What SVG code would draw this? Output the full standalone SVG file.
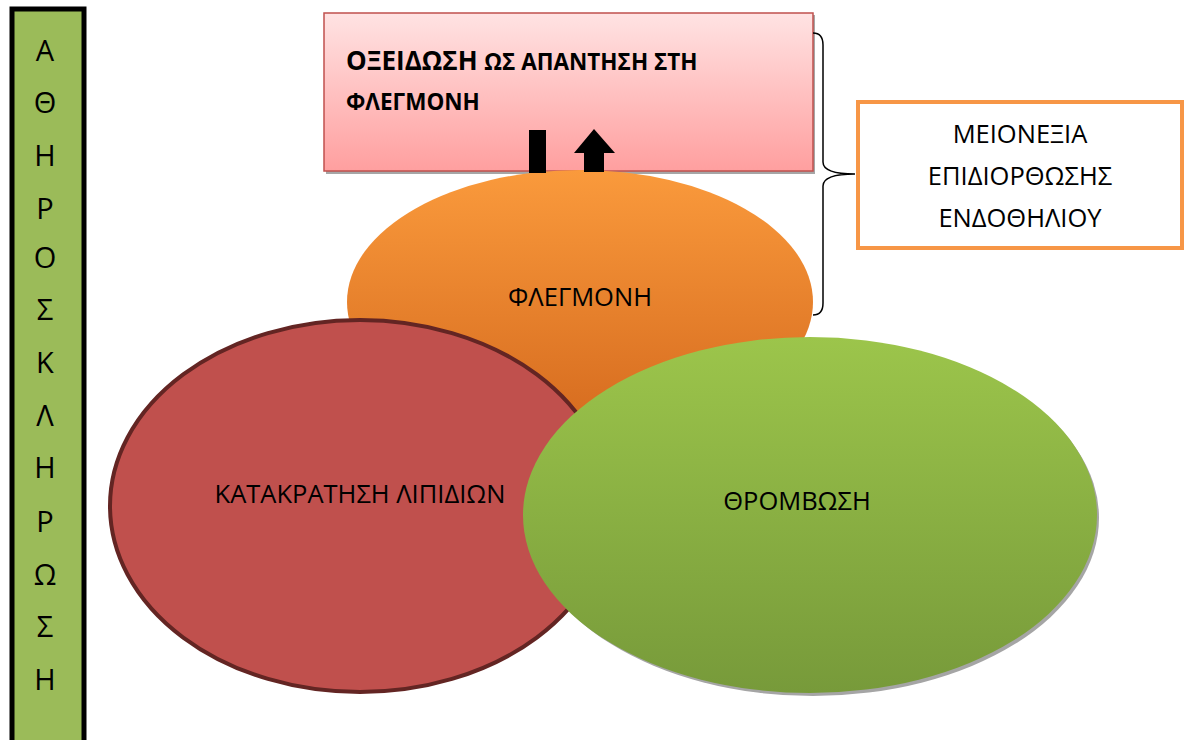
<svg xmlns="http://www.w3.org/2000/svg" width="1184" height="740" viewBox="0 0 1184 740">
<defs>
<style>
text{font-family:"Open Sans","Noto Sans","DejaVu Sans",sans-serif;fill:#000}
.lbl{font-size:25.5px;text-anchor:middle}
.bar{font-size:29px;text-anchor:middle}
.b{font-weight:bold}
</style>
<linearGradient id="gPink" x1="0" y1="0" x2="0" y2="1"><stop offset="0" stop-color="#FFE3E3"/><stop offset="1" stop-color="#FF9F9F"/></linearGradient>
<linearGradient id="gOrange" x1="0" y1="0" x2="0" y2="1"><stop offset="0" stop-color="#FA9A3C"/><stop offset="1" stop-color="#D56A1E"/></linearGradient>
<linearGradient id="gGreen" x1="0" y1="0" x2="0" y2="1"><stop offset="0" stop-color="#9CC54B"/><stop offset="1" stop-color="#779A3A"/></linearGradient>
</defs>
<rect width="1184" height="740" fill="#fff"/>

<g id="side-bar">
<rect x="12" y="9" width="72" height="740" fill="#9BBB59" stroke="#000" stroke-width="5"/>
<text class="bar" x="45" y="61">Α</text>
<text class="bar" x="45" y="113">Θ</text>
<text class="bar" x="45" y="166">Η</text>
<text class="bar" x="45" y="219">Ρ</text>
<text class="bar" x="45" y="268">Ο</text>
<text class="bar" x="45" y="320">Σ</text>
<text class="bar" x="45" y="373">Κ</text>
<text class="bar" x="45" y="426">Λ</text>
<text class="bar" x="45" y="478">Η</text>
<text class="bar" x="45" y="532">Ρ</text>
<text class="bar" x="45" y="585">Ω</text>
<text class="bar" x="45" y="637">Σ</text>
<text class="bar" x="45" y="690">Η</text>
</g>

<g id="oxidation-box">
<rect x="326" y="15" width="489" height="159" fill="#A6A6A6"/>
<rect x="324" y="13" width="489" height="158" fill="url(#gPink)" stroke="#C0504D" stroke-width="1.5"/>
<text x="346" y="70" class="b" style="font-size:26px">ΟΞΕΙΔΩΣΗ <tspan style="font-size:22.5px">ΩΣ ΑΠΑΝΤΗΣΗ ΣΤΗ</tspan></text>
<text x="346" y="110" class="b" style="font-size:22.5px">ΦΛΕΓΜΟΝΗ</text>
</g>

<g id="inflammation">
<ellipse cx="580" cy="302" rx="233" ry="132" fill="url(#gOrange)"/>
<text class="lbl" x="580" y="306">ΦΛΕΓΜΟΝΗ</text>
</g>

<g id="connectors">
<rect x="529" y="130" width="17" height="43" fill="#000"/>
<polygon points="574,153 594,129 615,153 604,153 604,172 584,172 584,153" fill="#000"/>
<path d="M813,33 Q823,33 823,45 L823,162 Q823,174 855,174 Q823,174 823,186 L823,303 Q823,315 813,315" fill="none" stroke="#000" stroke-width="1.5"/>
</g>

<g id="endothelium-box">
<rect x="858" y="102" width="324" height="146" fill="#fff" stroke="#F79646" stroke-width="4"/>
<text class="lbl" x="1020" y="143">ΜΕΙΟΝΕΞΙΑ</text>
<text class="lbl" x="1020" y="185">ΕΠΙΔΙΟΡΘΩΣΗΣ</text>
<text class="lbl" x="1020" y="227">ΕΝΔΟΘΗΛΙΟΥ</text>
</g>

<g id="lipids">
<ellipse cx="360" cy="506" rx="250" ry="186" fill="#C0504D" stroke="#632523" stroke-width="4"/>
<text class="lbl" x="360" y="503">ΚΑΤΑΚΡΑΤΗΣΗ ΛΙΠΙΔΙΩΝ</text>
</g>

<g id="thrombosis">
<ellipse cx="813" cy="518" rx="286" ry="178" fill="#A5A5A5"/>
<ellipse cx="810" cy="515" rx="287" ry="178" fill="url(#gGreen)"/>
<text class="lbl" x="797" y="510">ΘΡΟΜΒΩΣΗ</text>
</g>
</svg>
